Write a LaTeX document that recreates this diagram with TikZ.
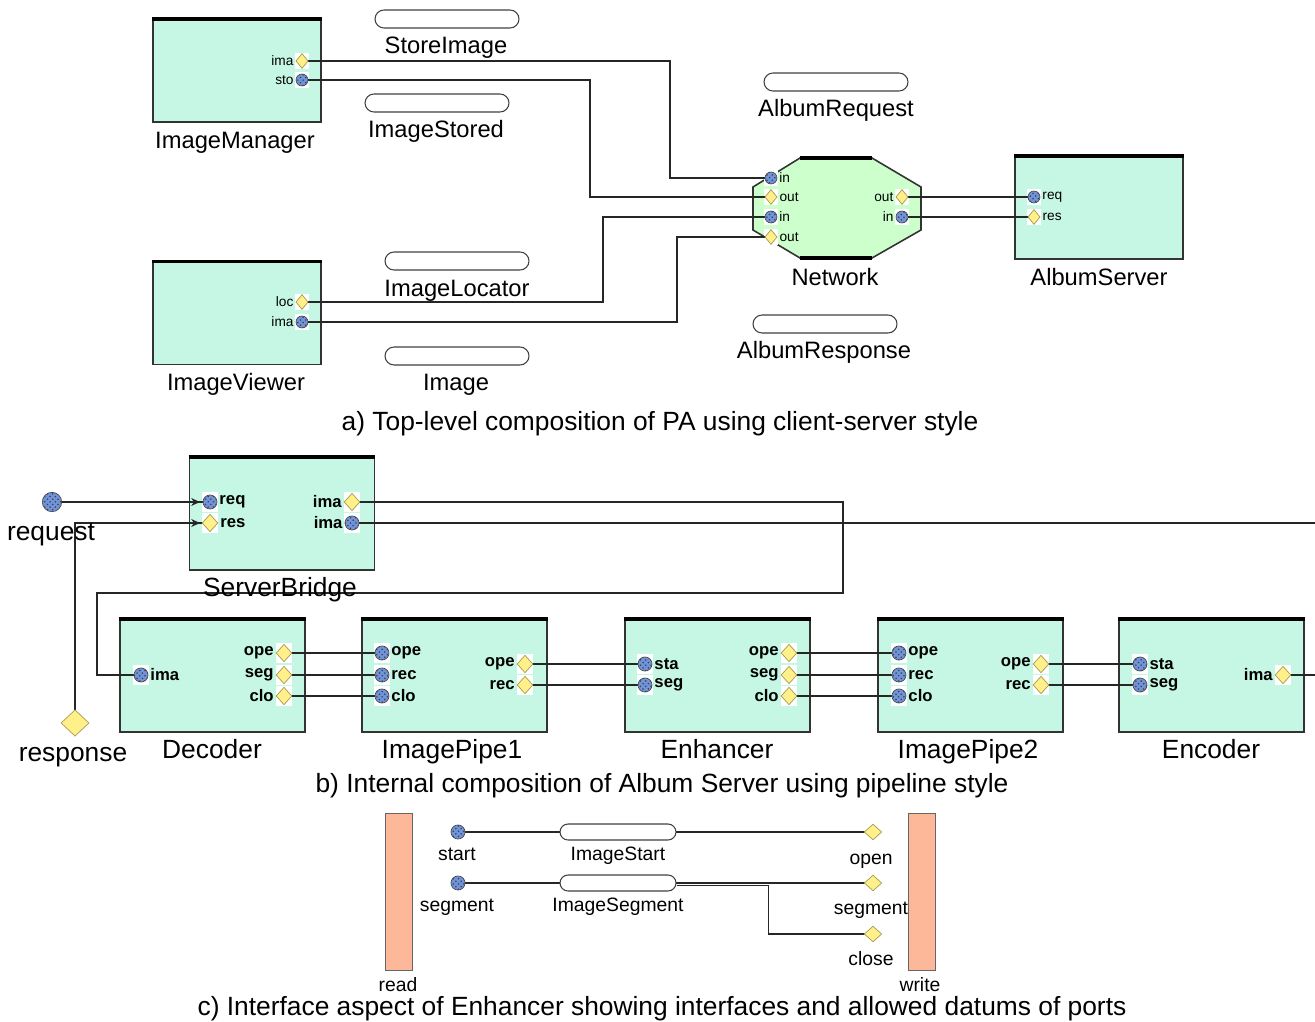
\documentclass[tikz,border=0pt]{standalone}
\usepackage{fontspec}
\setmainfont{Liberation Sans}
\usetikzlibrary{shapes.geometric,shapes.misc,arrows.meta,patterns,calc}

\definecolor{boxgreen}{HTML}{C6F7E4}
\definecolor{netgreen}{HTML}{CCFFCC}
\definecolor{portblue}{HTML}{6F94DC}
\definecolor{portyellow}{HTML}{FFF08A}
\definecolor{portedge}{HTML}{A89A50}
\definecolor{barorange}{HTML}{FDB89A}

\pgfdeclarelayer{boxes}
\pgfdeclarelayer{wires}
\pgfsetlayers{boxes,wires,main}

\begin{document}
\begin{tikzpicture}[x=0.02cm,y=-0.02cm,
  comp/.style={draw=black!80,line width=0.9pt,fill=boxgreen,minimum width=3.36cm,minimum height=2.04cm,inner sep=0},
  bcomp/.style={comp,minimum width=3.7cm,minimum height=2.24cm},
  pill/.style={rounded rectangle,draw=black!75,fill=white,line width=0.6pt,minimum width=2.88cm,minimum height=0.36cm,inner sep=0},
  cpill/.style={pill,minimum width=2.32cm,minimum height=0.32cm},
  inp/.style={circle,draw=black!70,fill=portblue,postaction={pattern=crosshatch dots,pattern color=black!75},inner sep=0,minimum size=6.8pt},
  outp/.style={diamond,draw=portedge,fill=portyellow,inner sep=0,minimum width=7pt,minimum height=8.5pt},
  bin/.style={inp,minimum size=8pt},
  bout/.style={outp,minimum width=9pt,minimum height=10pt},
  alab/.style={font=\fontsize{7.8}{9}\selectfont,inner sep=1pt},
  blab/.style={font=\bfseries\fontsize{9.5}{11}\selectfont,inner sep=1pt},
  nm/.style={font=\fontsize{13.5}{16}\selectfont,text height=1.5ex,text depth=.3ex,inner sep=0,yshift=-1.6pt},
  bnm/.style={font=\fontsize{15}{18}\selectfont,text height=1.5ex,text depth=.3ex,inner sep=0,yshift=-1.6pt},
  cnm/.style={font=\fontsize{11}{13}\selectfont,text height=1.5ex,text depth=.3ex,inner sep=0,yshift=-1pt},
  capt/.style={font=\fontsize{15}{18}\selectfont,text height=1.5ex,text depth=.3ex,inner sep=0,yshift=-1.8pt},
  wire/.style={draw=black!85,line width=0.6pt},
  sbarrow/.style={-{Stealth[length=5pt,width=4.5pt]}}]
\useasboundingbox (0,0) rectangle (1315,1021);

% a) top level
\node[pill] (storeImage) at (447,19) {};
\node[pill] (imageStored) at (437,103) {};
\node[pill] (albumRequest) at (836,82) {};
\node[pill] (imageLocator) at (457,261) {};
\node[pill] (image) at (457,356) {};
\node[pill] (albumResponse) at (825,324) {};
\node[nm] (storeImageL) at (446,45) {StoreImage};
\node[nm] (imageStoredL) at (436,129) {ImageStored};
\node[nm] (albumRequestL) at (836,108) {AlbumRequest};
\node[nm] (imageLocatorL) at (457,288) {ImageLocator};
\node[nm] (imageL) at (456,382) {Image};
\node[nm] (albumResponseL) at (824,350) {AlbumResponse};

\begin{pgfonlayer}{boxes}
\node[comp] (im) at (237,71) {};
\node[comp] (iv) at (237,313.5) {};
\node[comp] (as) at (1099,208) {};
\filldraw[draw=black!80,line width=0.9pt,fill=netgreen] (800,158) -- (872,158) -- (921,187) -- (921,230)
  -- (872,258) -- (800,258) -- (753,230) -- (753,187) -- cycle;
\draw[line width=2pt] (800,158) -- (872,158) (800,258) -- (872,258);
\node[bcomp] (sb) at (282,514) {};
\node[bcomp] (dec) at (212.5,676) {};
\node[bcomp] (ip1) at (454.5,676) {};
\node[bcomp] (enh) at (717.5,676) {};
\node[bcomp] (ip2) at (970.5,676) {};
\node[bcomp] (enc) at (1211.5,676) {};
\foreach \b in {im,iv,as,sb,dec,ip1,enh,ip2,enc}
  \draw[line width=2pt] (\b.north west) -- (\b.north east);
\node[draw=black!60,fill=barorange,minimum width=0.54cm,minimum height=3.14cm,inner sep=0] (rd) at (398.5,891.5) {};
\node[draw=black!60,fill=barorange,minimum width=0.54cm,minimum height=3.14cm,inner sep=0] (wr) at (922,891.5) {};
\end{pgfonlayer}

\node[nm] (imL) at (235,140) {ImageManager};
\node[nm] (ivL) at (236,382) {ImageViewer};
\node[nm] (netL) at (835,277) {Network};
\node[nm] (asL) at (1099,277) {AlbumServer};

\node[outp,label={[alab]left:ima}] (imIma) at (302,61) {};
\node[inp,label={[alab]left:sto}] (imSto) at (302,80) {};
\node[outp,label={[alab]left:loc}] (ivLoc) at (302,302) {};
\node[inp,label={[alab]left:ima}] (ivIma) at (302,322) {};
\node[inp,label={[alab]right:in}] (netIn1) at (771,178) {};
\node[outp,label={[alab]right:out}] (netOut1) at (771,197) {};
\node[inp,label={[alab]right:in}] (netIn2) at (771,217) {};
\node[outp,label={[alab]right:out}] (netOut2) at (771,237) {};
\node[outp,label={[alab]left:out}] (netOut3) at (902,197) {};
\node[inp,label={[alab]left:in}] (netIn3) at (902,217) {};
\node[inp,label={[alab]right:req}] (asReq) at (1034,197) {};
\node[outp,label={[alab]right:res}] (asRes) at (1034,217) {};

\node[capt] (captA) at (660,422) {a) Top-level composition of PA using client-server style};

% b) album server
\node[inp,minimum size=11pt] (request) at (52,502) {};
\node[outp,minimum width=16pt,minimum height=15pt] (response) at (75,723) {};
\node[bnm] (requestL) at (51,532) {request};
\node[bnm] (responseL) at (73,753) {response};
\node[bnm] (sbL) at (280,588) {ServerBridge};
\node[bnm] (decL) at (212,750) {Decoder};
\node[bnm] (ip1L) at (452,750) {ImagePipe1};
\node[bnm] (enhL) at (717,750) {Enhancer};
\node[bnm] (ip2L) at (968,750) {ImagePipe2};
\node[bnm] (encL) at (1211,750) {Encoder};

\node[bin,label={[blab]right:req}] (sbReq) at (210,502) {};
\node[bout,label={[blab]right:res}] (sbRes) at (210,523) {};
\node[bout,label={[blab]left:ima}] (sbImaO) at (352,502) {};
\node[bin,label={[blab]left:ima}] (sbImaI) at (352,523) {};
\node[bin,label={[blab]right:ima}] (decIma) at (141,675) {};
\node[bout,label={[blab]left:ope}] (decOpe) at (284,653) {};
\node[bout,label={[blab]left:seg}] (decSeg) at (284,675) {};
\node[bout,label={[blab]left:clo}] (decClo) at (284,696) {};
\node[bin,label={[blab]right:ope}] (ip1Ope) at (382,653) {};
\node[bin,label={[blab]right:rec}] (ip1Rec) at (382,675) {};
\node[bin,label={[blab]right:clo}] (ip1Clo) at (382,696) {};
\node[bout,label={[blab]left:ope}] (ip1OpeO) at (525,664) {};
\node[bout,label={[blab]left:rec}] (ip1RecO) at (525,685) {};
\node[bin,label={[blab]right:sta}] (enhSta) at (645,664) {};
\node[bin,label={[blab]right:seg}] (enhSeg) at (645,685) {};
\node[bout,label={[blab]left:ope}] (enhOpe) at (789,653) {};
\node[bout,label={[blab]left:seg}] (enhSegO) at (789,675) {};
\node[bout,label={[blab]left:clo}] (enhClo) at (789,696) {};
\node[bin,label={[blab]right:ope}] (ip2Ope) at (899,653) {};
\node[bin,label={[blab]right:rec}] (ip2Rec) at (899,675) {};
\node[bin,label={[blab]right:clo}] (ip2Clo) at (899,696) {};
\node[bout,label={[blab]left:ope}] (ip2OpeO) at (1041,664) {};
\node[bout,label={[blab]left:rec}] (ip2RecO) at (1041,685) {};
\node[bin,label={[blab]right:sta}] (encSta) at (1140,664) {};
\node[bin,label={[blab]right:seg}] (encSeg) at (1140,685) {};
\node[bout,label={[blab]left:ima}] (encIma) at (1283,675) {};
\coordinate (sbOut) at (1315,523);
\coordinate (encOut) at (1315,675);

\node[capt] (captB) at (662,784) {b) Internal composition of Album Server using pipeline style};

% c) enhancer interface
\node[cpill] (imgStart) at (618,832) {};
\node[cpill] (imgSeg) at (618,883) {};
\node[bin] (cStart) at (458,832) {};
\node[bin] (cSeg) at (458,883) {};
\node[outp,minimum width=10pt,minimum height=9pt] (cOpen) at (873,832) {};
\node[outp,minimum width=10pt,minimum height=9pt] (cSegO) at (873,883) {};
\node[outp,minimum width=10pt,minimum height=9pt] (cClose) at (873,934) {};
\node[cnm] (cStartL) at (457,853) {start};
\node[cnm] (cSegL) at (457,904) {segment};
\node[cnm] (imgStartL) at (618,853) {ImageStart};
\node[cnm] (imgSegL) at (618,904) {ImageSegment};
\node[cnm] (cOpenL) at (871,857) {open};
\node[cnm] (cSegOL) at (871,907) {segment};
\node[cnm] (cCloseL) at (871,958) {close};
\node[cnm] (rdL) at (398,984) {read};
\node[cnm] (wrL) at (920,984) {write};

\node[capt] (captC) at (662,1007) {c) Interface aspect of Enhancer showing interfaces and allowed datums of ports};

% white backs of the ports
\begin{pgfonlayer}{boxes}
\foreach \p in {imIma,imSto,ivLoc,ivIma,netIn1,netOut1,netIn2,netOut2,netOut3,netIn3,asReq,asRes}
  \fill[white] (\p.center) ++(-7,-8) rectangle ++(14,16);
\foreach \p in {sbReq,sbRes,sbImaO,sbImaI,decIma,decOpe,decSeg,decClo,ip1Ope,ip1Rec,ip1Clo,ip1OpeO,ip1RecO,
  enhSta,enhSeg,enhOpe,enhSegO,enhClo,ip2Ope,ip2Rec,ip2Clo,ip2OpeO,ip2RecO,encSta,encSeg,encIma}
  \fill[white] (\p.center) ++(-8,-10) rectangle ++(16,20);
\end{pgfonlayer}

\begin{pgfonlayer}{wires}
\draw[wire] (imIma.center) -- ++(368,0) |- (netIn1.center);
\draw[wire] (imSto.center) -- ++(288,0) |- (netOut1.center);
\draw[wire] (ivLoc.center) -- ++(301,0) |- (netIn2.center);
\draw[wire] (ivIma.center) -- ++(375,0) |- (netOut2.center);
\draw[wire] (netOut3.center) -- (asReq.center);
\draw[wire] (netIn3.center) -- (asRes.center);

\draw[wire] (request.center) -- (sbReq.center);
\draw[wire] (response.center) |- (sbRes.center);
\draw[wire] (sbImaO.center) -- ++(491,0) -- ++(0,91) -- ++(-746,0) |- (decIma.center);
\draw[wire] (sbImaI.center) -- (sbOut);
\draw[wire] (decOpe.center) -- (ip1Ope.center);
\draw[wire] (decSeg.center) -- (ip1Rec.center);
\draw[wire] (decClo.center) -- (ip1Clo.center);
\draw[wire] (ip1OpeO.center) -- (enhSta.center);
\draw[wire] (ip1RecO.center) -- (enhSeg.center);
\draw[wire] (enhOpe.center) -- (ip2Ope.center);
\draw[wire] (enhSegO.center) -- (ip2Rec.center);
\draw[wire] (enhClo.center) -- (ip2Clo.center);
\draw[wire] (ip2OpeO.center) -- (encSta.center);
\draw[wire] (ip2RecO.center) -- (encSeg.center);
\draw[wire] (encIma.center) -- (encOut);

\draw[wire] (cStart.center) -- (cOpen.center);
\draw[wire] (cSeg.center) -- (cSegO.center);
\draw[wire] ([yshift=-1.5pt]imgSeg.east) -- ++(92,0) |- (cClose.center);
\end{pgfonlayer}
\draw[wire,sbarrow] ($(sbReq)+(-30,0)$) -- ($(sbReq)+(-10,0)$);
\draw[wire,sbarrow] ($(sbRes)+(-30,0)$) -- ($(sbRes)+(-10,0)$);
\end{tikzpicture}
\end{document}
